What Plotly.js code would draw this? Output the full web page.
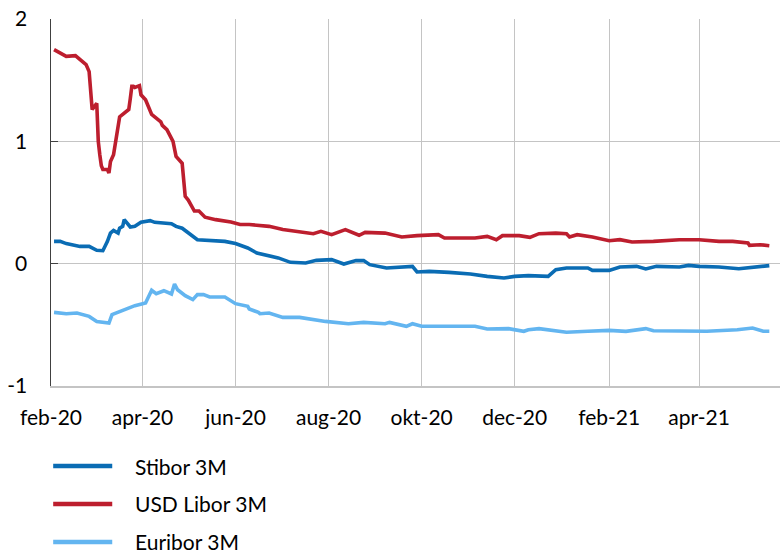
<!DOCTYPE html>
<html>
<head>
<meta charset="utf-8">
<script src="https://cdn.plot.ly/plotly-3.0.1.min.js"></script>
<style>html,body{margin:0;padding:0;background:#fff;}#chart{width:780px;height:554px;}</style>
</head>
<body>
<div id="chart"></div>
<script>
// Series names
const seriesNames = ["Stibor 3M", "USD Libor 3M", "Euribor 3M"];

// Stibor 3M
const stiborDates = ["2020-02-03","2020-02-07","2020-02-11","2020-02-20","2020-02-26","2020-03-02","2020-03-06","2020-03-09","2020-03-11","2020-03-13","2020-03-16","2020-03-17","2020-03-19","2020-03-20","2020-03-24","2020-03-27","2020-03-31","2020-04-06","2020-04-09","2020-04-20","2020-04-23","2020-04-27","2020-05-07","2020-05-13","2020-05-25","2020-06-01","2020-06-09","2020-06-15","2020-06-29","2020-07-07","2020-07-17","2020-07-24","2020-08-03","2020-08-11","2020-08-19","2020-08-24","2020-08-28","2020-09-08","2020-09-18","2020-09-25","2020-09-28","2020-10-06","2020-10-19","2020-11-02","2020-11-13","2020-11-24","2020-12-01","2020-12-10","2020-12-23","2020-12-28","2021-01-04","2021-01-18","2021-01-21","2021-02-01","2021-02-08","2021-02-19","2021-02-25","2021-03-04","2021-03-19","2021-03-25","2021-04-01","2021-04-14","2021-04-27","2021-05-06","2021-05-17"];
const stiborValues = [0.182,0.182,0.164,0.141,0.141,0.109,0.106,0.182,0.25,0.272,0.25,0.29,0.305,0.36,0.30,0.305,0.338,0.352,0.338,0.327,0.305,0.29,0.196,0.19,0.182,0.164,0.128,0.087,0.047,0.011,0.006,0.027,0.033,-0.003,0.025,0.025,-0.008,-0.035,-0.027,-0.022,-0.068,-0.063,-0.071,-0.084,-0.104,-0.117,-0.104,-0.098,-0.104,-0.049,-0.035,-0.035,-0.055,-0.055,-0.027,-0.022,-0.043,-0.022,-0.027,-0.014,-0.022,-0.027,-0.041,-0.03,-0.016];

// USD Libor 3M
const liborDates = ["2020-02-03","2020-02-11","2020-02-17","2020-02-24","2020-02-26","2020-02-28","2020-03-02","2020-03-03","2020-03-04","2020-03-05","2020-03-06","2020-03-09","2020-03-10","2020-03-11","2020-03-13","2020-03-16","2020-03-17","2020-03-18","2020-03-20","2020-03-23","2020-03-24","2020-03-25","2020-03-26","2020-03-27","2020-03-30","2020-03-31","2020-04-03","2020-04-07","2020-04-13","2020-04-14","2020-04-17","2020-04-21","2020-04-23","2020-04-27","2020-04-29","2020-05-01","2020-05-05","2020-05-08","2020-05-12","2020-05-19","2020-05-29","2020-06-04","2020-06-10","2020-06-17","2020-06-23","2020-07-02","2020-07-22","2020-07-27","2020-08-03","2020-08-12","2020-08-21","2020-08-25","2020-09-07","2020-09-18","2020-09-28","2020-10-12","2020-10-16","2020-11-05","2020-11-13","2020-11-19","2020-11-23","2020-12-04","2020-12-11","2020-12-17","2020-12-28","2021-01-04","2021-01-06","2021-01-11","2021-01-21","2021-02-01","2021-02-08","2021-02-16","2021-03-02","2021-03-19","2021-04-01","2021-04-14","2021-04-23","2021-05-03","2021-05-04","2021-05-11","2021-05-17"];
const liborValues = [1.75,1.695,1.70,1.627,1.57,1.26,1.31,1.00,0.89,0.80,0.77,0.77,0.74,0.836,0.89,1.10,1.20,1.21,1.23,1.26,1.35,1.45,1.45,1.44,1.455,1.38,1.34,1.22,1.16,1.13,1.095,1.00,0.877,0.82,0.55,0.52,0.43,0.43,0.38,0.36,0.34,0.32,0.32,0.31,0.305,0.28,0.245,0.264,0.237,0.278,0.232,0.256,0.25,0.218,0.229,0.237,0.21,0.21,0.223,0.196,0.229,0.229,0.215,0.245,0.25,0.245,0.218,0.237,0.218,0.188,0.196,0.177,0.182,0.196,0.196,0.182,0.182,0.169,0.15,0.155,0.147];

// Euribor 3M
const euriborDates = ["2020-02-03","2020-02-11","2020-02-18","2020-02-26","2020-03-02","2020-03-10","2020-03-12","2020-03-19","2020-03-23","2020-03-27","2020-04-03","2020-04-07","2020-04-10","2020-04-15","2020-04-20","2020-04-22","2020-04-24","2020-04-29","2020-05-04","2020-05-07","2020-05-11","2020-05-15","2020-05-25","2020-06-01","2020-06-09","2020-06-10","2020-06-16","2020-06-17","2020-06-23","2020-07-02","2020-07-13","2020-07-30","2020-08-14","2020-08-24","2020-09-07","2020-09-10","2020-09-21","2020-09-25","2020-10-01","2020-10-26","2020-11-05","2020-11-13","2020-11-27","2020-12-07","2020-12-10","2020-12-17","2021-01-04","2021-01-18","2021-02-01","2021-02-12","2021-02-25","2021-03-02","2021-04-06","2021-04-26","2021-05-06","2021-05-13","2021-05-17"];
const euriborValues = [-0.398,-0.409,-0.403,-0.431,-0.472,-0.485,-0.417,-0.382,-0.362,-0.343,-0.321,-0.218,-0.245,-0.221,-0.248,-0.166,-0.213,-0.262,-0.294,-0.253,-0.253,-0.272,-0.272,-0.327,-0.349,-0.370,-0.398,-0.409,-0.403,-0.439,-0.439,-0.472,-0.491,-0.480,-0.491,-0.480,-0.512,-0.491,-0.512,-0.512,-0.512,-0.534,-0.531,-0.553,-0.540,-0.531,-0.561,-0.553,-0.545,-0.553,-0.531,-0.548,-0.553,-0.540,-0.526,-0.553,-0.553];

// Axis ticks
const xTickVals = ["2020-02-01","2020-04-01","2020-06-01","2020-08-01","2020-10-01","2020-12-01","2021-02-01","2021-04-01"];
const xTickText = ["feb-20","apr-20","jun-20","aug-20","okt-20","dec-20","feb-21","apr-21"];
const yTickVals = [-1, 0, 1, 2];
const yTickText = ["-1", "0", "1", "2"];

const colors = ["#0A6CB4", "#BD1E2E", "#63B5F0"];
const FONT = "Lato, 'Open Sans', sans-serif";

const traces = [
  {x: stiborDates, y: stiborValues, name: seriesNames[0]},
  {x: liborDates, y: liborValues, name: seriesNames[1]},
  {x: euriborDates, y: euriborValues, name: seriesNames[2]}
].map((t, i) => Object.assign(t, {type: "scatter", mode: "lines", line: {color: colors[i], width: 3.6}, hoverinfo: "skip"}));

// Custom legend (below chart)
const legendY = [-0.218, -0.3215, -0.425];
const shapes = [];
const annotations = [];
seriesNames.forEach((n, i) => {
  shapes.push({type: "line", xref: "paper", yref: "paper", x0: 0.003, x1: 0.084, y0: legendY[i], y1: legendY[i], line: {color: colors[i], width: 4.5}});
  annotations.push({xref: "paper", yref: "paper", x: 0.1125, y: legendY[i], xanchor: "left", yanchor: "middle", text: n, showarrow: false, font: {family: FONT, size: 21, color: "#000"}});
});

const layout = {
  width: 780, height: 554,
  margin: {l: 51, r: 0, t: 19, b: 168},
  paper_bgcolor: "#fff", plot_bgcolor: "#fff",
  showlegend: false,
  hovermode: false,
  font: {family: FONT, size: 21, color: "#000"},
  xaxis: {
    type: "date",
    range: ["2020-02-01", "2021-05-24"],
    tickvals: xTickVals, ticktext: xTickText,
    showgrid: true, gridcolor: "#C4C4C4", gridwidth: 1,
    zeroline: false, showline: true, linecolor: "#C4C4C4", linewidth: 1.5,
    ticks: "", ticklabelstandoff: 12,
    tickfont: {family: FONT, size: 21, color: "#000"}
  },
  yaxis: {
    range: [-1, 2],
    tickvals: yTickVals, ticktext: yTickText,
    showgrid: true, gridcolor: "#C4C4C4", gridwidth: 1,
    zeroline: false, showline: true, linecolor: "#404040", linewidth: 1.5,
    ticks: "inside", ticklen: 7, tickcolor: "#404040", tickwidth: 1.5,
    ticklabelstandoff: 18,
    tickfont: {family: FONT, size: 21, color: "#000"}
  },
  shapes: shapes,
  annotations: annotations
};

Plotly.newPlot("chart", traces, layout, {displayModeBar: false, staticPlot: true});
</script>
</body>
</html>
